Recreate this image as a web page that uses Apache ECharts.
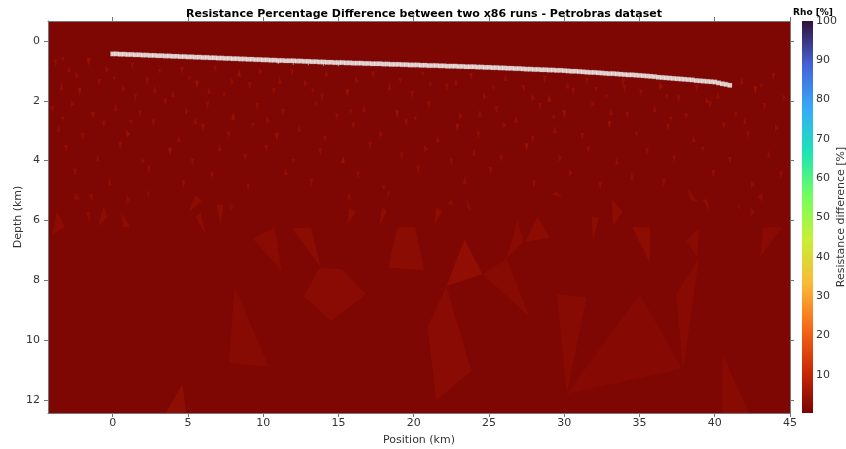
<!DOCTYPE html>
<html>
<head>
<meta charset="utf-8">
<script src="https://cdn.jsdelivr.net/npm/echarts@6/dist/echarts.min.js"></script>
<style>
  html, body { margin: 0; padding: 0; background: #fff; }
  #chart { width: 846px; height: 449px; }
</style>
</head>
<body>
<div id="chart"></div>
<script>
// axis ticks
const xTicks = [0, 5, 10, 15, 20, 25, 30, 35, 40, 45];
const yTicks = [0, 2, 4, 6, 8, 10, 12];
const cbarTicks = [10, 20, 30, 40, 50, 60, 70, 80, 90, 100];

// colour scale (turbo, reversed) for Rho [%]
const cbarValues = [0, 11.1, 22.2, 33.3, 44.4, 55.6, 66.7, 77.8, 88.9, 100];
const cbarColors = ['#7a0403', '#cb2a04', '#f66b19', '#faba39', '#c8ef34',
  '#72fe5e', '#1ae4b6', '#36aaf9', '#4662d7', '#30123b'];

// background resistance difference [%]
const backgroundValue = 0.5;

// receiver positions (km) and depths (km)
const siteX = [0, 0.25, 0.5, 0.75, 1, 1.25, 1.5, 1.75, 2, 2.25, 2.5, 2.75, 3, 3.25, 3.5, 3.75, 4, 4.25, 4.5, 4.75,
  5, 5.25, 5.5, 5.75, 6, 6.25, 6.5, 6.75, 7, 7.25, 7.5, 7.75, 8, 8.25, 8.5, 8.75, 9, 9.25, 9.5, 9.75,
  10, 10.25, 10.5, 10.75, 11, 11.25, 11.5, 11.75, 12, 12.25, 12.5, 12.75, 13, 13.25, 13.5, 13.75, 14, 14.25, 14.5, 14.75,
  15, 15.25, 15.5, 15.75, 16, 16.25, 16.5, 16.75, 17, 17.25, 17.5, 17.75, 18, 18.25, 18.5, 18.75, 19, 19.25, 19.5, 19.75,
  20, 20.25, 20.5, 20.75, 21, 21.25, 21.5, 21.75, 22, 22.25, 22.5, 22.75, 23, 23.25, 23.5, 23.75, 24, 24.25, 24.5, 24.75,
  25, 25.25, 25.5, 25.75, 26, 26.25, 26.5, 26.75, 27, 27.25, 27.5, 27.75, 28, 28.25, 28.5, 28.75, 29, 29.25, 29.5, 29.75,
  30, 30.25, 30.5, 30.75, 31, 31.25, 31.5, 31.75, 32, 32.25, 32.5, 32.75, 33, 33.25, 33.5, 33.75, 34, 34.25, 34.5, 34.75,
  35, 35.25, 35.5, 35.75, 36, 36.25, 36.5, 36.75, 37, 37.25, 37.5, 37.75, 38, 38.25, 38.5, 38.75, 39, 39.25, 39.5, 39.75,
  40, 40.25, 40.5, 40.75, 41];
const siteDepth = [0.43, 0.43, 0.44, 0.44, 0.45, 0.45, 0.46, 0.46, 0.47, 0.47, 0.48, 0.48, 0.49, 0.49, 0.50, 0.50, 0.51, 0.51, 0.52, 0.52,
  0.53, 0.53, 0.54, 0.54, 0.55, 0.55, 0.56, 0.56, 0.57, 0.57, 0.58, 0.58, 0.59, 0.59, 0.60, 0.60, 0.61, 0.61, 0.62, 0.62,
  0.63, 0.63, 0.64, 0.64, 0.65, 0.65, 0.66, 0.66, 0.66, 0.67, 0.67, 0.68, 0.68, 0.69, 0.69, 0.70, 0.70, 0.71, 0.71, 0.72,
  0.72, 0.72, 0.73, 0.73, 0.74, 0.74, 0.74, 0.75, 0.75, 0.76, 0.76, 0.76, 0.77, 0.77, 0.78, 0.78, 0.78, 0.79, 0.79, 0.80,
  0.80, 0.80, 0.81, 0.81, 0.82, 0.82, 0.82, 0.83, 0.83, 0.84, 0.84, 0.84, 0.85, 0.85, 0.86, 0.86, 0.86, 0.87, 0.87, 0.88,
  0.88, 0.89, 0.89, 0.90, 0.90, 0.91, 0.91, 0.92, 0.92, 0.93, 0.94, 0.94, 0.95, 0.95, 0.96, 0.96, 0.97, 0.97, 0.98, 0.98,
  0.99, 1.00, 1.01, 1.01, 1.02, 1.03, 1.04, 1.05, 1.05, 1.06, 1.07, 1.08, 1.09, 1.09, 1.10, 1.11, 1.12, 1.13, 1.13, 1.14,
  1.15, 1.16, 1.17, 1.18, 1.19, 1.21, 1.22, 1.23, 1.24, 1.25, 1.26, 1.27, 1.28, 1.29, 1.30, 1.32, 1.33, 1.34, 1.35, 1.36,
  1.37, 1.40, 1.43, 1.45, 1.48];

// small marks under the receiver line
const markX = [11, 12, 13, 14, 15];
const markDepth = [0.72, 0.74, 0.76, 0.78, 0.79];

// large patches of the mesh: vertices as [position km, depth km]
const patches = [
  [[-3.70, 5.70], [-3.17, 6.20], [-4.03, 6.50]],
  [[9.30, 6.60], [10.77, 6.23], [11.23, 7.70]],
  [[11.90, 6.27], [13.17, 6.23], [13.83, 7.57]],
  [[13.77, 7.57], [15.23, 7.63], [16.83, 8.47], [14.50, 9.37], [12.70, 8.53]],
  [[18.90, 6.23], [20.10, 6.23], [20.70, 7.67], [18.30, 7.57]],
  [[23.37, 6.63], [24.57, 7.80], [22.17, 8.20]],
  [[26.17, 7.27], [26.90, 5.97], [27.30, 6.73]],
  [[28.23, 5.87], [29.03, 6.57], [27.37, 6.73]],
  [[24.57, 7.80], [26.17, 7.27], [27.70, 9.23]],
  [[22.17, 8.20], [23.83, 11.03], [21.50, 12.03], [20.90, 9.57]],
  [[8.10, 8.20], [10.37, 10.90], [7.70, 10.77]],
  [[4.63, 11.47], [4.90, 12.45], [3.50, 12.45]],
  [[34.50, 6.23], [35.70, 6.23], [35.70, 7.43]],
  [[38.10, 6.70], [38.97, 6.23], [38.83, 7.23]],
  [[38.97, 7.23], [37.43, 8.47], [37.90, 11.03]],
  [[35.03, 8.47], [30.17, 11.80], [37.83, 10.97]],
  [[29.50, 8.47], [31.50, 8.57], [30.17, 11.80]],
  [[43.23, 6.23], [44.50, 6.23], [43.03, 7.20]],
  [[40.50, 10.47], [42.30, 12.45], [40.50, 12.45]],
  [[-1.77, 5.73], [-1.50, 5.70], [-1.50, 6.13]],
  [[-0.63, 5.53], [-0.30, 5.87], [-0.97, 6.20]],
  [[0.57, 5.73], [1.17, 6.23], [0.70, 6.23]],
  [[-2.63, 5.30], [-2.17, 5.30], [-2.43, 5.07]],
  [[-1.63, 5.13], [-1.30, 5.07], [-1.30, 5.40]],
  [[0.90, 5.13], [1.17, 5.30], [0.90, 5.47]],
  [[5.03, 5.73], [5.50, 5.13], [5.90, 5.37]],
  [[5.50, 5.87], [5.83, 5.73], [6.17, 6.47]],
  [[6.90, 5.47], [7.37, 5.47], [7.17, 6.13]],
  [[7.70, 5.40], [8.03, 5.53], [7.83, 5.70]],
  [[2.23, 5.03], [2.50, 5.03], [2.37, 5.23]],
  [[15.70, 5.57], [16.17, 5.73], [15.57, 6.13]],
  [[17.90, 5.53], [18.23, 5.70], [17.70, 6.20]],
  [[21.50, 5.53], [21.90, 5.70], [21.37, 6.13]],
  [[22.50, 5.30], [22.70, 5.47], [22.23, 5.47]],
  [[23.57, 5.30], [23.83, 5.70], [23.50, 5.53]],
  [[15.70, 5.07], [15.90, 5.30], [15.57, 5.30]],
  [[18.23, 5.03], [18.50, 5.03], [18.23, 5.23]],
  [[33.17, 5.30], [33.90, 5.70], [33.23, 6.20]],
  [[38.17, 4.90], [38.37, 5.30], [38.90, 5.40]],
  [[39.17, 5.30], [39.50, 5.30], [39.70, 5.73]],
  [[41.50, 5.40], [41.83, 5.70], [41.57, 5.57]],
  [[42.37, 5.53], [42.70, 5.70], [42.37, 5.90]],
  [[42.83, 5.20], [43.17, 5.07], [43.23, 5.40]],
  [[29.17, 5.13], [29.90, 5.23], [29.50, 5.03]],
  [[31.83, 5.87], [32.30, 5.90], [31.90, 6.70]]
];
const patchValues = [2.4, 2.0, 2.2, 2.0, 2.2, 3.0, 2.0, 2.4, 1.8, 2.0, 1.9, 2.8, 2.6, 2.0, 1.8, 1.7, 1.8, 2.0, 1.8,
  2.6, 2.6, 2.6, 2.6, 2.6, 2.6, 2.6, 2.6, 2.6, 2.6, 2.6, 2.6, 2.6, 2.6, 2.6, 2.6, 2.6, 2.6, 2.6, 2.6, 2.6, 2.6, 2.6, 2.6, 2.6, 2.6];

// small speckles in the shallow part: [position km, depth km, shape, value %]
const speckles = [
  [-3.8, 0.75, 0, 3], [-2.9, 0.9, 1, 3], [-1.6, 0.7, 0, 4], [-0.4, 0.95, 2, 3], [1.3, 0.85, 0, 3], [3.1, 1.0, 3, 3],
  [6.8, 0.95, 0, 3], [8.4, 1.05, 1, 4], [11.9, 1.05, 0, 3], [14.2, 1.1, 2, 3], [17.3, 1.15, 0, 3], [20.6, 1.1, 3, 3],
  [23.8, 1.2, 0, 3], [26.1, 1.2, 1, 3], [31.5, 1.35, 0, 3], [33.9, 1.4, 0, 3], [36.4, 1.5, 2, 4], [38.8, 1.6, 0, 3],
  [41.8, 1.3, 1, 3], [43.9, 1.2, 0, 3], [-3.3, 0.6, 3, 3], [4.6, 1.0, 0, 3], [9.8, 1.0, 2, 3], [28.7, 1.3, 0, 3],
  [-3.4, 1.5, 1, 3], [-2.2, 1.7, 0, 4], [-0.9, 1.4, 0, 3], [0.7, 1.6, 2, 3], [2.3, 1.35, 0, 3], [4.0, 1.75, 1, 3],
  [5.6, 1.45, 0, 4], [7.4, 1.8, 3, 3], [9.1, 1.5, 0, 3], [10.7, 1.7, 0, 3], [12.8, 1.4, 2, 3], [15.6, 1.75, 0, 4],
  [18.4, 1.5, 1, 3], [19.9, 1.8, 0, 3], [22.2, 1.55, 0, 3], [24.7, 1.85, 2, 3], [27.3, 1.6, 0, 3], [29.0, 1.9, 1, 4],
  [30.6, 1.7, 0, 3], [32.8, 1.85, 3, 3], [35.1, 1.75, 0, 3], [37.6, 1.95, 0, 3], [40.2, 1.8, 1, 3], [42.7, 1.65, 0, 4],
  [44.6, 1.9, 2, 3], [1.5, 1.9, 0, 3], [6.4, 1.65, 1, 3], [13.9, 1.9, 0, 3], [21.1, 1.45, 3, 3], [34.0, 1.6, 0, 3],
  [-4.0, 2.3, 0, 3], [-2.7, 2.1, 2, 3], [-1.3, 2.5, 0, 4], [0.2, 2.2, 1, 3], [1.8, 2.45, 0, 3], [3.5, 2.05, 0, 3],
  [4.9, 2.35, 2, 3], [6.3, 2.15, 0, 3], [8.0, 2.5, 1, 4], [9.6, 2.2, 0, 3], [11.3, 2.4, 0, 3], [13.5, 2.1, 3, 3],
  [14.9, 2.55, 0, 3], [16.7, 2.25, 1, 3], [18.9, 2.45, 0, 4], [21.0, 2.15, 0, 3], [23.1, 2.5, 2, 3], [25.5, 2.3, 0, 3],
  [26.8, 2.6, 1, 3], [28.4, 2.2, 0, 3], [30.0, 2.45, 0, 4], [31.9, 2.1, 2, 3], [34.2, 2.5, 0, 3], [36.0, 2.25, 1, 3],
  [38.1, 2.55, 0, 3], [39.7, 2.15, 0, 3], [41.4, 2.45, 3, 3], [43.3, 2.2, 0, 3],
  [-3.6, 2.9, 1, 3], [-2.0, 3.2, 0, 3], [-0.6, 2.8, 0, 3], [1.0, 3.1, 2, 4], [2.7, 2.75, 0, 3], [4.4, 3.25, 1, 3],
  [6.0, 2.9, 0, 3], [7.7, 3.15, 0, 3], [9.3, 2.8, 3, 3], [10.9, 3.2, 0, 4], [12.4, 2.9, 1, 3], [14.1, 3.3, 0, 3],
  [16.0, 2.85, 0, 3], [17.8, 3.1, 2, 3], [19.5, 2.75, 0, 3], [21.6, 3.25, 1, 3], [22.9, 2.9, 0, 4], [24.3, 3.15, 0, 3],
  [26.0, 2.8, 2, 3], [27.9, 3.3, 0, 3], [29.4, 2.95, 1, 3], [31.2, 3.2, 0, 3], [33.0, 2.8, 0, 4], [34.8, 3.1, 3, 3],
  [36.9, 2.9, 0, 3], [38.6, 3.25, 1, 3], [40.6, 2.85, 0, 3], [42.2, 3.15, 0, 3], [44.1, 2.9, 2, 3],
  [-3.1, 3.6, 0, 3], [-1.0, 3.9, 1, 3], [0.5, 3.5, 0, 3], [2.0, 4.0, 2, 3], [3.8, 3.7, 0, 4], [5.3, 4.05, 0, 3],
  [7.1, 3.55, 1, 3], [8.8, 3.9, 0, 3], [10.2, 3.6, 0, 3], [12.0, 4.0, 3, 3], [13.8, 3.7, 0, 3], [15.3, 3.95, 1, 4],
  [17.1, 3.5, 0, 3], [19.2, 3.85, 0, 3], [20.8, 3.6, 2, 3], [22.5, 4.05, 0, 3], [24.0, 3.7, 1, 3], [25.8, 3.95, 0, 3],
  [27.5, 3.55, 0, 4], [29.7, 3.9, 2, 3], [31.6, 3.65, 0, 3], [33.5, 4.0, 1, 3], [35.5, 3.7, 0, 3], [37.3, 3.95, 0, 3],
  [39.2, 3.6, 3, 3], [41.0, 4.0, 0, 3], [43.6, 3.75, 1, 3],
  [-2.5, 4.4, 0, 3], [-0.2, 4.7, 1, 3], [2.4, 4.3, 0, 3], [4.7, 4.8, 0, 3], [6.6, 4.45, 2, 3], [9.0, 4.9, 0, 3],
  [11.5, 4.35, 1, 3], [13.2, 4.75, 0, 3], [16.3, 4.5, 0, 3], [18.0, 4.9, 3, 3], [20.3, 4.3, 0, 3], [23.4, 4.65, 1, 3],
  [25.1, 4.35, 0, 3], [28.0, 4.8, 0, 3], [30.4, 4.4, 2, 3], [32.4, 4.85, 0, 3], [34.5, 4.5, 1, 3], [36.6, 4.75, 0, 3],
  [39.9, 4.45, 0, 3], [42.5, 4.8, 2, 3], [44.4, 4.5, 0, 3],
  [-2.4, 1.15, 2, 3], [0.1, 1.25, 3, 3], [2.8, 1.6, 1, 3], [5.1, 1.25, 3, 3], [7.9, 1.35, 2, 3], [11.1, 1.3, 1, 3],
  [13.3, 1.65, 3, 3], [16.2, 1.3, 2, 3], [19.1, 1.3, 3, 3], [22.8, 1.35, 1, 3], [25.3, 1.55, 3, 3], [27.9, 1.9, 2, 3],
  [30.2, 1.45, 1, 3], [32.1, 1.6, 3, 3], [36.8, 1.85, 3, 3], [39.5, 2.0, 2, 3], [43.1, 1.5, 3, 3],
  [-3.3, 2.6, 3, 3], [1.2, 2.7, 3, 3], [5.5, 2.65, 1, 3], [10.3, 2.65, 2, 3], [15.8, 2.35, 3, 3], [20.1, 2.6, 3, 3],
  [24.4, 2.4, 1, 3], [29.3, 2.55, 3, 3], [33.1, 2.35, 1, 3], [37.1, 2.6, 3, 3], [42.0, 2.65, 1, 3]
];

// speckle outlines in pixels around their centre
const speckleShapes = [
  [[-2, -4], [2, -4], [0, 4]],
  [[0, -4], [2, 4], [-2, 4]],
  [[-1.5, -4], [2.5, 0.5], [-1.5, 4]],
  [[-2, -2], [2, -2], [0, 3]]
];

const FONT = 'DejaVu Sans';
const X_MIN = -4.3, X_MAX = 45;
const Y_MIN = -0.67, Y_MAX = 12.44;
const CB_MIN = 0.3, CB_MAX = 100;

function hexToRgb(h) {
  return [parseInt(h.slice(1, 3), 16), parseInt(h.slice(3, 5), 16), parseInt(h.slice(5, 7), 16)];
}
function colorFor(v) {
  for (let i = 1; i < cbarValues.length; i++) {
    if (v <= cbarValues[i]) {
      const t = (v - cbarValues[i - 1]) / (cbarValues[i] - cbarValues[i - 1]);
      const a = hexToRgb(cbarColors[i - 1]), b = hexToRgb(cbarColors[i]);
      const c = a.map((x, k) => Math.round(x + (b[k] - x) * t));
      return 'rgb(' + c.join(',') + ')';
    }
  }
  return cbarColors[cbarColors.length - 1];
}

const chart = echarts.init(document.getElementById('chart'));

const labelStyle = { fontFamily: FONT, fontSize: 11, color: '#333' };
const lineStyle = { color: '#777', width: 1 };

const option = {
  animation: false,
  title: [
    {
      text: 'Resistance Percentage Difference between two x86 runs - Petrobras dataset',
      left: 419, top: 4, textAlign: 'center',
      textStyle: { fontFamily: FONT, fontSize: 11, fontWeight: 'bold', color: '#000' }
    },
    {
      text: 'Rho [%]',
      left: 808, top: 3, textAlign: 'center',
      textStyle: { fontFamily: FONT, fontSize: 9, fontWeight: 'bold', color: '#000' }
    }
  ],
  grid: [
    { left: 48, top: 21, width: 742, height: 392, show: true, borderWidth: 0,
      outerBoundsMode: 'none', containLabel: false,
      backgroundColor: colorFor(backgroundValue) },
    { left: 802, top: 21, width: 11, height: 392, outerBoundsMode: 'none', containLabel: false }
  ],
  xAxis: [
    {
      gridIndex: 0, type: 'value', min: X_MIN, max: X_MAX, position: 'bottom',
      name: 'Position (km)', nameLocation: 'middle', nameGap: 22, nameMoveOverlap: false,
      nameTextStyle: labelStyle,
      axisLine: { show: true, onZero: false, lineStyle },
      axisTick: { show: true, length: 4, customValues: xTicks, lineStyle },
      axisLabel: Object.assign({ customValues: xTicks, margin: 5 }, labelStyle),
      splitLine: { show: false }
    },
    {
      gridIndex: 0, type: 'value', min: X_MIN, max: X_MAX, position: 'top',
      axisLine: { show: true, onZero: false, lineStyle },
      axisTick: { show: true, length: 4, customValues: xTicks, lineStyle },
      axisLabel: { show: false },
      splitLine: { show: false }
    },
    { gridIndex: 1, type: 'value', min: 0, max: 1, show: false }
  ],
  yAxis: [
    {
      gridIndex: 0, type: 'value', inverse: true, min: Y_MIN, max: Y_MAX, position: 'left',
      name: 'Depth (km)', nameLocation: 'middle', nameGap: 24, nameRotate: 90, nameMoveOverlap: false,
      nameTextStyle: labelStyle,
      axisLine: { show: true, onZero: false, lineStyle },
      axisTick: { show: true, length: 4, customValues: yTicks, lineStyle },
      axisLabel: Object.assign({ customValues: yTicks, margin: 8 }, labelStyle),
      splitLine: { show: false }
    },
    {
      gridIndex: 0, type: 'value', inverse: true, min: Y_MIN, max: Y_MAX, position: 'right',
      axisLine: { show: true, onZero: false, lineStyle },
      axisTick: { show: true, length: 4, customValues: yTicks, lineStyle },
      axisLabel: { show: false },
      splitLine: { show: false }
    },
    {
      gridIndex: 1, type: 'value', min: CB_MIN, max: CB_MAX, position: 'right',
      name: 'Resistance difference [%]', nameLocation: 'middle', nameGap: 23, nameRotate: 90,
      nameMoveOverlap: false,
      nameTextStyle: labelStyle,
      axisLine: { show: false },
      axisTick: { show: true, length: 3, customValues: cbarTicks, lineStyle },
      axisLabel: Object.assign({ customValues: cbarTicks, margin: 3 }, labelStyle),
      splitLine: { show: false }
    }
  ],
  series: [
    {
      type: 'custom', xAxisIndex: 0, yAxisIndex: 0, clip: true, silent: true, z: 2,
      data: patches.map((p, i) => [p[0][0], p[0][1], i]),
      renderItem: function (params, api) {
        const i = params.dataIndex;
        return {
          type: 'polygon',
          shape: { points: patches[i].map(p => api.coord(p)) },
          style: { fill: colorFor(patchValues[i]) }
        };
      }
    },
    {
      type: 'custom', xAxisIndex: 0, yAxisIndex: 0, clip: true, silent: true, z: 2,
      data: speckles,
      renderItem: function (params, api) {
        const s = speckles[params.dataIndex];
        const c = api.coord([s[0], s[1]]);
        return {
          type: 'polygon',
          shape: { points: speckleShapes[s[2]].map(o => [c[0] + o[0], c[1] + o[1]]) },
          style: { fill: colorFor(s[3]) }
        };
      }
    },
    {
      type: 'scatter', xAxisIndex: 0, yAxisIndex: 0, silent: true, z: 4,
      symbol: 'rect', symbolSize: [1.2, 3],
      itemStyle: { color: '#aaa' },
      data: markX.map((x, i) => [x, markDepth[i]])
    },
    {
      type: 'scatter', xAxisIndex: 0, yAxisIndex: 0, silent: true, z: 5,
      symbol: 'rect', symbolSize: 4.5,
      itemStyle: { color: '#fff', borderColor: '#999', borderWidth: 0.3 },
      data: siteX.map((x, i) => [x, siteDepth[i]])
    },
    {
      type: 'custom', xAxisIndex: 2, yAxisIndex: 2, silent: true,
      data: [[0, CB_MIN]],
      renderItem: function (params, api) {
        const p0 = api.coord([0, CB_MIN]);
        const p1 = api.coord([1, CB_MAX]);
        const stops = cbarValues.map((v, i) => ({
          offset: Math.max(0, (v - CB_MIN) / (CB_MAX - CB_MIN)),
          color: cbarColors[i]
        }));
        return {
          type: 'rect',
          shape: { x: p0[0], y: p1[1], width: p1[0] - p0[0], height: p0[1] - p1[1] },
          style: { fill: new echarts.graphic.LinearGradient(0, 1, 0, 0, stops) }
        };
      }
    }
  ]
};

chart.setOption(option);
</script>
</body>
</html>
